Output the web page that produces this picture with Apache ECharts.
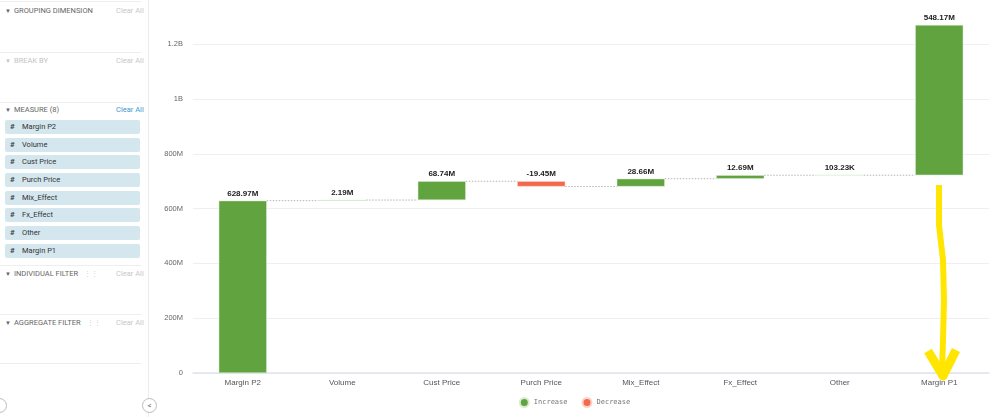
<!DOCTYPE html>
<html>
<head>
<meta charset="utf-8">
<script src="https://cdn.jsdelivr.net/npm/echarts@6/dist/echarts.min.js"></script>
<style>
  html, body { margin: 0; padding: 0; background: #fff; font-family: Roboto, "Noto Sans", sans-serif; }
  .page { position: relative; width: 999px; height: 417px; overflow: hidden; }
  .side { position: absolute; left: 0; top: 0; width: 148px; height: 417px; border-right: 1px solid #ececec; }
  .sep { position: absolute; left: 0; width: 141px; height: 1px; background: #eeeeee; }
  .head { position: absolute; left: 5px; font-size: 7.5px; color: #666; letter-spacing: 0px; }
  .head .tri { font-size: 6px; margin-right: 3px; }
  .head.dim { color: #c4c4c4; }
  .clear { position: absolute; left: 116px; font-size: 7.5px; color: #c8c8c8; }
  .clear.on { color: #3d9ad1; }
  .grip { color: #d0d0d0; margin-left: 6px; font-size: 7px; }
  .chip { position: absolute; left: 5px; width: 135px; height: 14px; background: #d4e7ef; border-radius: 2px;
          font-size: 7.5px; color: #333; line-height: 14px; }
  .chip b { display: inline-block; width: 12px; margin-left: 5px; font-size: 8px; color: #444; }
  .btn { position: absolute; width: 13px; height: 13px; border: 1px solid #bbb; border-radius: 50%;
         font-size: 8px; color: #666; text-align: center; line-height: 13px; background: #fff; }
  #main { position: absolute; left: 150px; top: 0; width: 849px; height: 417px; }
</style>
</head>
<body>
<div class="page">
  <div class="side" id="side"></div>
  <div class="btn" style="left:-8px; top:398px;"></div>
  <div id="main"></div>
  <div class="btn" style="left:142px; top:398px;">&lt;</div>
</div>
<script>
// data
const categories = ['Margin P2', 'Volume', 'Cust Price', 'Purch Price', 'Mix_Effect', 'Fx_Effect', 'Other', 'Margin P1']
const changes = [628.97e6, 2.19e6, 68.74e6, -19.45e6, 28.66e6, 12.69e6, 103.23e3, 548.17e6]
const yTicks = ['0', '200M', '400M', '600M', '800M', '1B', '1.2B']
const measures = ['Margin P2', 'Volume', 'Cust Price', 'Purch Price', 'Mix_Effect', 'Fx_Effect', 'Other', 'Margin P1']

// sidebar
const side = document.getElementById('side')
let html = ''
html += '<div class="sep" style="top:1px"></div>'
html += '<div class="head" style="top:6px"><span class="tri">&#9660;</span>GROUPING DIMENSION</div><div class="clear" style="top:6px">Clear All</div>'
html += '<div class="sep" style="top:52px"></div>'
html += '<div class="head dim" style="top:56px"><span class="tri">&#9660;</span>BREAK BY</div><div class="clear" style="top:56px">Clear All</div>'
html += '<div class="sep" style="top:102px"></div>'
html += '<div class="head" style="top:105px"><span class="tri">&#9660;</span>MEASURE (8)</div><div class="clear on" style="top:105px">Clear All</div>'
measures.forEach((m, i) => {
  html += `<div class="chip" style="top:${120 + i * 17.65}px"><b>#</b>${m}</div>`
})
html += '<div class="sep" style="top:265px"></div>'
html += '<div class="head" style="top:269px"><span class="tri">&#9660;</span>INDIVIDUAL FILTER<span class="grip">&#8942;&#8942;</span></div><div class="clear" style="top:269px">Clear All</div>'
html += '<div class="sep" style="top:314px"></div>'
html += '<div class="head" style="top:318px"><span class="tri">&#9660;</span>AGGREGATE FILTER<span class="grip">&#8942;&#8942;</span></div><div class="clear" style="top:318px">Clear All</div>'
html += '<div class="sep" style="top:363px"></div>'
side.innerHTML = html

// waterfall series
const base = [], inc = [], dec = [], totals = []
let run = 0
changes.forEach(v => {
  if (v >= 0) {
    base.push(run); inc.push(v); dec.push('-')
  } else {
    base.push(run + v); inc.push('-'); dec.push(-v)
  }
  run += v
  totals.push(run)
})

const fmt = v => {
  const a = Math.abs(v)
  if (a >= 1e9) return +(v / 1e9).toFixed(2) + 'B'
  if (a >= 1e6) return (v / 1e6).toFixed(2) + 'M'
  if (a >= 1e3) return (v / 1e3).toFixed(2) + 'K'
  return v + ''
}

const BAR_W = 48
const labelStyle = {
  show: true, position: 'top', distance: 3, fontSize: 8, fontWeight: 'bold', color: '#222',
  formatter: p => fmt(changes[p.dataIndex])
}

const chart = echarts.init(document.getElementById('main'))
chart.setOption({
  animation: false,
  grid: { left: 43, right: 10, top: 25, bottom: 44 },
  legend: {
    bottom: 4, left: 'center', icon: 'circle', itemWidth: 9, itemHeight: 9, itemGap: 14,
    textStyle: { fontSize: 7, color: '#777', fontFamily: 'DejaVu Sans Mono' },
    data: ['Increase', 'Decrease']
  },
  xAxis: {
    type: 'category', data: categories,
    axisLine: { lineStyle: { color: '#dfe3ea', width: 1.5 } },
    axisTick: { show: false },
    axisLabel: { fontSize: 8, color: '#555', margin: 6 }
  },
  yAxis: {
    type: 'value', min: 0, max: run, interval: 200e6,
    axisLine: { show: false }, axisTick: { show: false },
    splitLine: { showMaxLine: false, lineStyle: { color: '#efefef' } },
    axisLabel: {
      fontSize: 7.5, color: '#666', margin: 10, showMaxLabel: false,
      formatter: v => yTicks[Math.round(v / 200e6)] || ''
    }
  },
  series: [
    {
      type: 'bar', stack: 'w', barWidth: BAR_W, silent: true,
      itemStyle: { color: 'transparent' }, data: base
    },
    {
      name: 'Increase', type: 'bar', stack: 'w', barWidth: BAR_W,
      itemStyle: { color: '#61a33f', borderColor: '#d9ecd0', borderWidth: 0.5 },
      label: labelStyle, data: inc
    },
    {
      name: 'Decrease', type: 'bar', stack: 'w', barWidth: BAR_W,
      itemStyle: { color: '#f3694d', borderColor: '#fbd3ca', borderWidth: 0.5 },
      label: labelStyle, data: dec
    },
    {
      type: 'custom', silent: true, z: 1,
      data: totals.slice(0, -1).map((t, i) => [i, t]),
      renderItem: (params, api) => {
        const i = api.value(0)
        const p1 = api.coord([i, api.value(1)])
        const p2 = api.coord([i + 1, api.value(1)])
        return {
          type: 'line',
          shape: { x1: p1[0] + BAR_W / 2, y1: p1[1], x2: p2[0] - BAR_W / 2, y2: p2[1] },
          style: { stroke: '#b5b5b5', lineWidth: 1, lineDash: [1.5, 1.5] }
        }
      }
    }
  ],
  graphic: [
    {
      type: 'polyline', z: 100,
      shape: { points: [[789, 185], [789, 225], [793, 260], [794, 300], [793, 340], [792, 372]] },
      style: { stroke: '#ffe500', lineWidth: 6, fill: null }
    },
    {
      type: 'polyline', z: 100,
      shape: { points: [[778, 351], [793, 376], [806, 350]] },
      style: { stroke: '#ffe500', lineWidth: 9, fill: null, lineJoin: 'round' }
    }
  ]
})
</script>
</body>
</html>
